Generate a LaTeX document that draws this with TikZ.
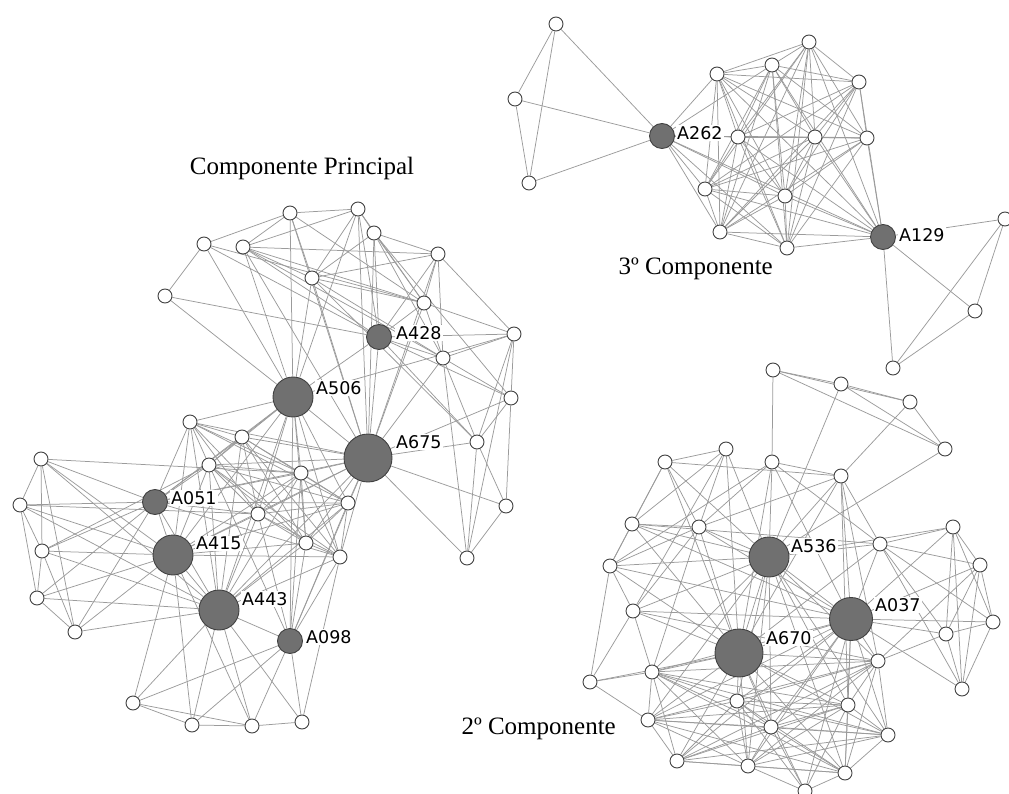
\documentclass[tikz,border=0pt]{standalone}
\usepackage{fontspec}
\newfontfamily\labfont{DejaVu Sans}
\newfontfamily\titfont{Liberation Serif}
\usetikzlibrary{backgrounds}
\definecolor{gnode}{RGB}{112,112,112}
\definecolor{edgec}{RGB}{155,155,155}
\definecolor{bord}{RGB}{65,65,65}
\begin{document}
\begin{tikzpicture}[x=1pt,y=-1pt,
 wn/.style={circle,draw=bord,fill=white,line width=0.9pt,minimum size=14pt,inner sep=0pt},
 gs/.style={circle,draw=bord,fill=gnode,line width=0.9pt,minimum size=25pt,inner sep=0pt},
 gm/.style={gs,minimum size=40pt},
 gl/.style={gs,minimum size=48pt},
 ed/.style={draw=edgec,line width=0.75pt},
 lab/.style={fill=white,inner sep=1pt,font=\labfont\fontsize{17.5}{19}\selectfont,anchor=west},
 tit/.style={font=\titfont\fontsize{25}{29}\selectfont,inner sep=0pt}]
\useasboundingbox (0,0) rectangle (1009,794);
% ---------- titles
\node[tit,anchor=base] (tmain) at (302,175) {Componente Principal};
\node[tit,anchor=base east] (tthree) at (773,275) {3º Componente};
\node[tit,anchor=base east] (ttwo) at (616,734) {2º Componente};
% ---------- component 3
\node[wn] (c3a) at (556,24) {};
\node[wn] (c3b) at (515,99) {};
\node[wn] (c3c) at (529,183) {};
\node[gs] (g262) at (662,136) {};
\node[wn] (k1) at (717,74) {};
\node[wn] (k2) at (772,65) {};
\node[wn] (k3) at (809,42) {};
\node[wn] (k4) at (859,82) {};
\node[wn] (k5) at (738,137) {};
\node[wn] (k6) at (815,137) {};
\node[wn] (k7) at (867,138) {};
\node[wn] (k8) at (705,189) {};
\node[wn] (k9) at (785,196) {};
\node[wn] (k10) at (720,232) {};
\node[wn] (k11) at (787,248) {};
\node[gs] (g129) at (883,237) {};
\node[wn] (r1) at (1005,219) {};
\node[wn] (r2) at (975,311) {};
\node[wn] (r3) at (893,368) {};
% ---------- main component
\node[wn] (m1) at (290,213) {};
\node[wn] (m2) at (358,209) {};
\node[wn] (m3) at (374,233) {};
\node[wn] (m4) at (204,244) {};
\node[wn] (m5) at (243,247) {};
\node[wn] (m6) at (438,254) {};
\node[wn] (m7) at (312,278) {};
\node[wn] (m8) at (165,296) {};
\node[wn] (m9) at (424,303) {};
\node[gs] (g428) at (379,337) {};
\node[wn] (m10) at (514,334) {};
\node[wn] (m11) at (443,358) {};
\node[gm] (g506) at (293,397) {};
\node[wn] (m12) at (511,398) {};
\node[wn] (m13) at (477,442) {};
\node[gl] (g675) at (368,458) {};
\node[wn] (m14) at (190,422) {};
\node[wn] (m15) at (242,437) {};
\node[wn] (m16) at (209,465) {};
\node[wn] (m17) at (301,473) {};
\node[wn] (m18) at (258,514) {};
\node[wn] (m19) at (348,503) {};
\node[wn] (m20) at (306,543) {};
\node[wn] (m21) at (340,557) {};
\node[wn] (m22) at (467,558) {};
\node[wn] (m23) at (506,506) {};
\node[wn] (l1) at (41,459) {};
\node[wn] (l2) at (20,505) {};
\node[wn] (l3) at (42,551) {};
\node[wn] (l4) at (37,598) {};
\node[wn] (l5) at (75,632) {};
\node[gs] (g051) at (155,502) {};
\node[gm] (g415) at (173,555) {};
\node[gm] (g443) at (219,610) {};
\node[gs] (g098) at (290,641) {};
\node[wn] (b1) at (133,703) {};
\node[wn] (b2) at (192,725) {};
\node[wn] (b3) at (252,726) {};
\node[wn] (b4) at (302,722) {};
% ---------- component 2
\node[wn] (t1) at (773,370) {};
\node[wn] (t2) at (841,384) {};
\node[wn] (t3) at (910,402) {};
\node[wn] (t4) at (945,449) {};
\node[wn] (p1) at (726,449) {};
\node[wn] (p2) at (665,462) {};
\node[wn] (p3) at (772,462) {};
\node[wn] (p4) at (841,476) {};
\node[wn] (p5) at (632,524) {};
\node[wn] (p6) at (699,527) {};
\node[wn] (p7) at (953,527) {};
\node[gm] (g536) at (769,557) {};
\node[wn] (p8) at (880,544) {};
\node[wn] (p9) at (610,566) {};
\node[wn] (p10) at (980,565) {};
\node[wn] (p11) at (633,611) {};
\node[gs,minimum size=43pt] (g037) at (851,619) {};
\node[wn] (p12) at (993,622) {};
\node[wn] (p13) at (946,634) {};
\node[gl] (g670) at (739,653) {};
\node[wn] (p14) at (878,661) {};
\node[wn] (p15) at (652,672) {};
\node[wn] (p16) at (590,682) {};
\node[wn] (p17) at (962,689) {};
\node[wn] (p18) at (737,701) {};
\node[wn] (p19) at (848,705) {};
\node[wn] (p20) at (648,720) {};
\node[wn] (p21) at (771,727) {};
\node[wn] (p22) at (888,735) {};
\node[wn] (p23) at (677,761) {};
\node[wn] (p24) at (748,766) {};
\node[wn] (p25) at (845,773) {};
\node[wn] (p26) at (805,791) {};
% ---------- labels
\node[lab] (L262) at (676,133) {A262};
\node[lab] (L129) at (898,235) {A129};
\node[lab] (L428) at (395,333) {A428};
\node[lab] (L506) at (315,388) {A506};
\node[lab] (L675) at (395,442) {A675};
\node[lab] (L051) at (170,498) {A051};
\node[lab] (L415) at (195,543) {A415};
\node[lab] (L443) at (241,599) {A443};
\node[lab] (L098) at (305,637) {A098};
\node[lab] (L536) at (790,546) {A536};
\node[lab] (L037) at (874,605) {A037};
\node[lab] (L670) at (765,638) {A670};
% ---------- edges
\begin{pgfonlayer}{background}
% component 3
\foreach \a/\b in {c3a/c3b,c3a/c3c,c3a/g262,c3b/c3c,c3b/g262,c3c/g262,
  g262/k1,g262/k2,g262/k5,g262/k6,g262/k7,g262/k8,g262/k9,g262/k10,g262/k11,g262/g129,
  g129/r1,g129/r2,g129/r3,r1/r2,r1/r3,r2/r3}
  \draw[ed] (\a) -- (\b);
\foreach \a [count=\i] in {k1,k2,k3,k4,k5,k6,k7,k8,k9,k10,k11,g129}{
  \foreach \b [count=\j] in {k1,k2,k3,k4,k5,k6,k7,k8,k9,k10,k11,g129}{
    \ifnum\j>\i \draw[ed] (\a) -- (\b); \fi }}
% main component
\foreach \a/\b in {m1/m2,m1/m7,m1/m9,m1/g506,m1/g675,m1/m5,
  m2/m3,m2/m7,m2/g428,m2/m9,m2/g506,m2/g675,m2/m5,
  m3/m6,m3/g428,m3/g675,m3/m9,m3/m11,m3/m12,m3/m7,
  m4/m8,m4/g428,m4/m1,m4/g506,m4/m9,
  m5/m6,m5/m9,m5/g428,m5/m7,m5/g506,m5/g675,m5/m11,
  m8/g428,m8/g506,
  m7/m6,m7/m9,m7/m11,m7/g506,m7/g675,m7/m13,
  m6/m9,m6/m11,m6/g428,m6/g675,m6/m10,
  m9/g428,m9/m11,m9/g675,m9/m10,
  g428/g506,g428/m11,g428/g675,g428/m10,g428/m13,g428/m12,
  m10/m11,m10/m12,m10/g506,m10/m13,m10/m22,
  m11/m12,m11/m13,m11/m22,m11/g675,
  m12/m13,m12/m23,m12/g675,
  m13/g675,m13/m22,m13/m23,
  g675/m23,g675/m22,m22/m23,
  g051/m14,g051/m15,g051/m16,g051/m17,g051/m18,g051/m19,g051/g506,g051/g675,g051/g415,g051/g443,g051/m21,
  g415/m14,g415/m16,g415/m17,g415/m18,g415/m20,g415/m21,g415/g506,g415/g675,g415/g443,g415/m19,
  m14/g506,m14/m15,m14/m16,m14/m17,m14/m18,m14/m19,m14/m20,m14/g675,m14/g443,
  g098/g443,g098/g506,g098/g675,g098/m19,g098/m20,g098/m21,g098/m18,g098/m17,g098/m16,
  l1/l2,l1/l3,l1/g051,l1/g415,l1/g443,l1/m17,l1/l5,
  l2/l3,l2/l4,l2/g051,l2/g415,l2/g443,l2/m18,
  l3/l4,l3/g051,l3/g415,l3/g443,l3/m16,l3/l5,
  l4/l5,l4/g415,l4/g443,l4/g051,
  l5/g443,l5/g051,l5/g415,
  b1/b2,b1/b3,b2/b3,b3/b4,b1/g098,b1/g443,b1/g415,b2/g443,b2/g098,b2/g415,
  b3/g443,b3/g098,b3/g415,b4/g443,b4/g098,b4/m21}
  \draw[ed] (\a) -- (\b);
\foreach \a [count=\i] in {m15,m16,m17,m18,m19,m20,m21,g506,g675,g443}{
  \foreach \b [count=\j] in {m15,m16,m17,m18,m19,m20,m21,g506,g675,g443}{
    \ifnum\j>\i \draw[ed] (\a) -- (\b); \fi }}
% component 2
\foreach \a/\b in {t1/t2,t1/t3,t1/t4,t2/t3,t2/t4,t3/t4,t1/p3,t2/g536,t3/p4,t4/g536,
  p1/p2,p1/p6,p1/g536,p1/p5,p1/g670,p1/p11,
  p2/p5,p2/p6,p2/g536,p2/g670,p2/p4,p2/p9,
  p3/p4,p3/g536,p3/p6,p3/g670,p3/g037,p3/p8,p3/p9,
  p4/p8,p4/g536,p4/g037,p4/g670,p4/p6,p4/p14,p4/p19,
  p5/p6,p5/g536,p5/p9,p5/g670,p5/g037,p5/p8,
  p6/g536,p6/p9,p6/g670,p6/p11,p6/p15,p6/g037,
  p7/p8,p7/p10,p7/p13,p7/p12,p7/g037,p7/p17,p7/g536,
  p8/g536,p8/g037,p8/p10,p8/p13,p8/g670,p8/p17,p8/p12,
  p9/g536,p9/p16,p9/g670,p9/p11,p9/g037,
  p10/p12,p10/p13,p10/p17,p10/g037,p10/p14,
  p11/g536,p11/g670,p11/g037,p11/p16,p11/p14,p11/p15,
  g037/p12,g037/p13,g037/p17,p12/p13,p12/p17,p13/p17,p13/p14,
  g536/g670,g536/g037,g536/p14,g536/p18,g536/p19,g536/p21,g536/p24,g536/p15,g536/p20,g536/p25,g536/p22,
  p16/p15,p16/g670,p16/p20,
  p26/p21,p26/p24,p26/p25,p26/p18,p26/g670,p26/g037,p26/p19}
  \draw[ed] (\a) -- (\b);
\foreach \a [count=\i] in {g670,g037,p14,p15,p18,p19,p20,p21,p22,p23,p24,p25}{
  \foreach \b [count=\j] in {g670,g037,p14,p15,p18,p19,p20,p21,p22,p23,p24,p25}{
    \ifnum\j>\i \draw[ed] (\a) -- (\b); \fi }}
\end{pgfonlayer}
\end{tikzpicture}
\end{document}
